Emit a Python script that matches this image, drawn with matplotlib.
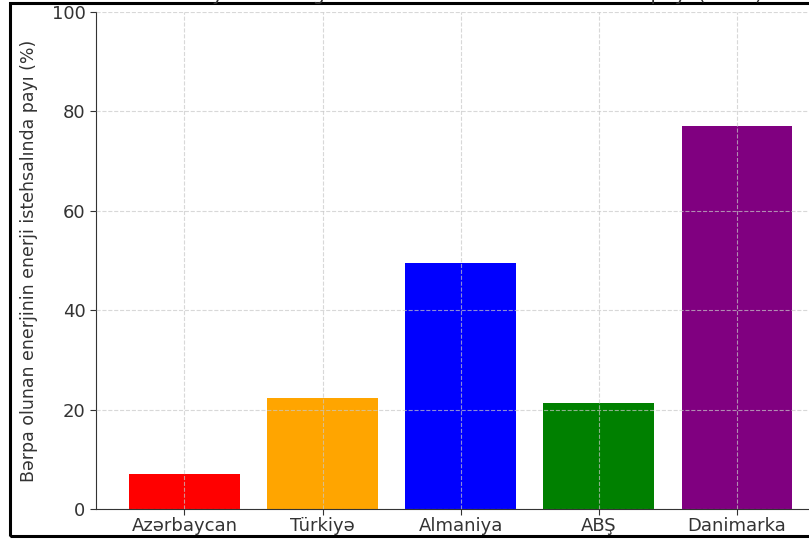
import matplotlib.pyplot as plt
from matplotlib.patches import Rectangle

# countries and renewable share (%)
countries = ["Azərbaycan", "Türkiyə", "Almaniya", "ABŞ", "Danimarka"]
shares = [7.0, 22.3, 49.5, 21.3, 77.1]
bar_colors = ["red", "orange", "blue", "green", "purple"]
yticks = [0, 20, 40, 60, 80, 100]

plt.rcParams['font.family'] = ['DejaVu Sans']

fig = plt.figure(figsize=(8.09, 5.40), dpi=100)
# axes runs past the right edge, like the cropped screenshot
ax = fig.add_axes([0.1187, 0.0574, 0.9013, 0.9204])

ax.bar(countries, shares, color=bar_colors, width=0.8)
ax.set_ylim(0, 100)
ax.set_yticks(yticks)
ax.set_xlim(-0.64, 4.64)

ax.grid(True, linestyle='--', color='#c8c8c8', alpha=0.7, linewidth=0.8)
ax.set_axisbelow(False)

ax.spines['top'].set_visible(False)
ax.spines['right'].set_visible(False)
for s in ['left', 'bottom']:
    ax.spines[s].set_color('#333333')
ax.tick_params(labelsize=13, colors='#333333', length=4)
ax.tick_params(axis='x', pad=2)

ax.set_ylabel("Bərpa olunan enerjinin enerji istehsalında payı (%)",
              fontsize=12.5, color='#333333', labelpad=10)

# title is mostly cut off at the top of the screenshot
fig.text(0.56, 0.992, "Azərbaycan və digər ölkələrdə elektrik istehsalında payı (2023)",
         ha='center', va='bottom', fontsize=14, color='#333333')

# black frame of the screenshot
fig.patches.append(Rectangle((10 / 809, 4 / 540), 1.2, 533 / 540,
                             transform=fig.transFigure, fill=False,
                             edgecolor='black', linewidth=2.2))

fig.savefig("out.png", dpi=100)
